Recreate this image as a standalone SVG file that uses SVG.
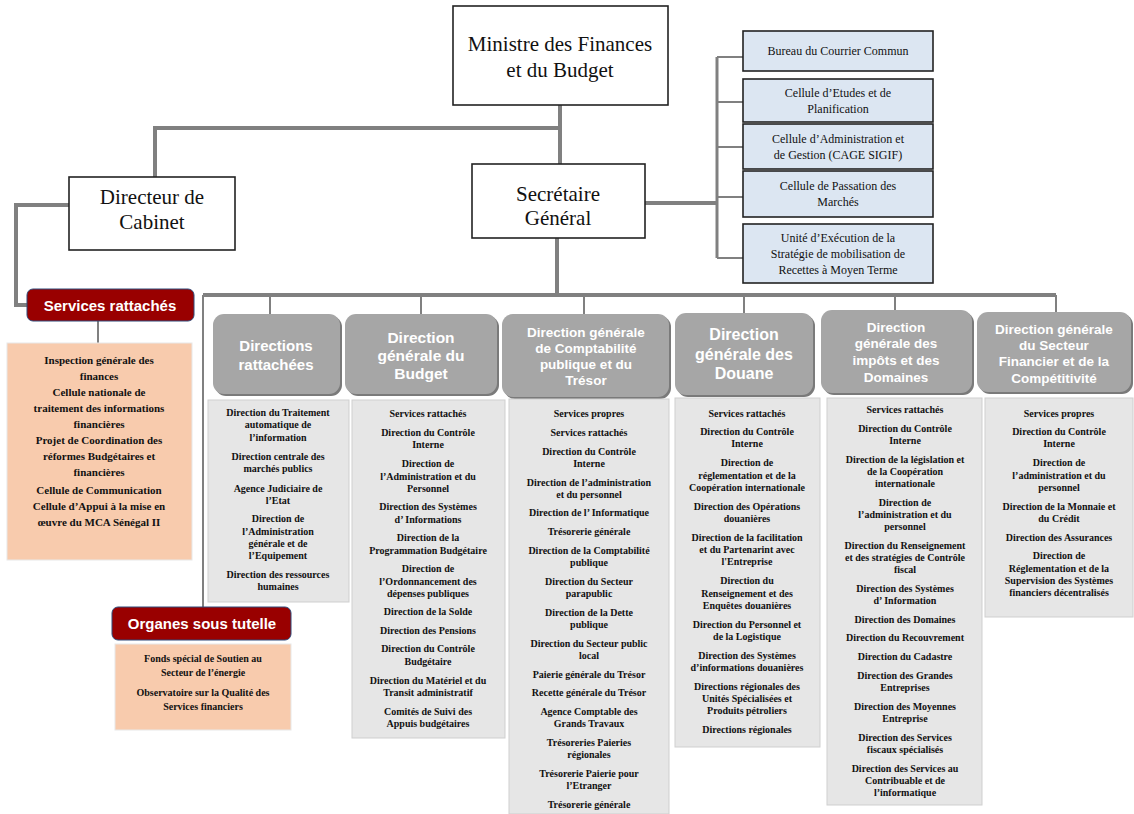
<svg xmlns="http://www.w3.org/2000/svg" width="1134" height="814" viewBox="0 0 1134 814">
<style>
.box{fill:#fff;stroke:#222;stroke-width:1.6}
.big{font-family:"Liberation Serif",serif;font-size:21px;fill:#111;text-anchor:middle}
.blue{fill:#dce6f2;stroke:#222;stroke-width:1.6}
.bt{font-family:"Liberation Serif",serif;font-size:12px;fill:#111;text-anchor:middle}
.red{fill:#990000;stroke:#2e4a7a;stroke-width:1}
.rt{font-family:"Liberation Sans",Arial,sans-serif;font-size:15px;font-weight:bold;fill:#fff;text-anchor:middle}
.org{fill:#f8cbad;stroke:#e8e8e8;stroke-width:1}
.ot{font-family:"Liberation Serif",serif;font-size:11px;font-weight:bold;fill:#111;text-anchor:middle}
.hd{fill:#a6a6a6}
.hs{fill:#7a7a7a}
.ht{font-family:"Liberation Sans",Arial,sans-serif;font-weight:bold;fill:#fff;text-anchor:middle}
.lst{fill:#e6e6e6;stroke:#cfcfcf;stroke-width:1}
.t{font-family:"Liberation Serif",serif;font-size:10px;font-weight:bold;fill:#111;text-anchor:middle}
.c{fill:none;stroke:#808080;stroke-linejoin:miter}
</style>

<g id="connectors">
  <path class="c" stroke-width="4" d="M560,105 V164 M560,128 H155 V177"/>
  <path class="c" stroke-width="4" d="M69,205 H16 V305 H27"/>
  <path class="c" stroke-width="2" d="M98,320 V343"/>
  <path class="c" stroke-width="4" d="M557,238 V295"/>
  <path class="c" stroke-width="4" d="M203,295 H1056"/>
  <path class="c" stroke-width="2" d="M203,295 V607"/>
  <path class="c" stroke-width="2" d="M270,295 V314 M421,295 V314 M584,295 V314 M744,295 V313 M895,295 V310 M1056,295 V312"/>
  <path class="c" stroke-width="4" d="M645,203 H717"/>
  <path class="c" stroke-width="3" d="M717,57 V258"/>
  <path class="c" stroke-width="2" d="M717,57 H743 M717,102 H743 M717,147 H743 M717,197 H743 M717,258 H743"/>
</g>

<g id="ministre">
  <rect class="box" x="453" y="6" width="215" height="99"/>
  <text class="big" x="560" y="51">Ministre des Finances</text>
  <text class="big" x="560" y="77">et du Budget</text>
</g>

<g id="directeur-cabinet">
  <rect class="box" x="69" y="177" width="166" height="73"/>
  <text class="big" x="152" y="204">Directeur de</text>
  <text class="big" x="152" y="229">Cabinet</text>
</g>

<g id="secretaire-general">
  <rect class="box" x="472" y="164" width="173" height="74"/>
  <text class="big" x="558" y="201">Secrétaire</text>
  <text class="big" x="558" y="225">Général</text>
</g>

<g id="bureau-courrier">
  <rect class="blue" x="743" y="31" width="190" height="40"/>
  <text class="bt" x="838" y="55">Bureau du Courrier Commun</text>
</g>
<g id="cellule-etudes">
  <rect class="blue" x="743" y="79" width="190" height="43"/>
  <text class="bt" x="838" y="97">Cellule d’Etudes et de</text>
  <text class="bt" x="838" y="113">Planification</text>
</g>
<g id="cellule-administration">
  <rect class="blue" x="743" y="124" width="190" height="45"/>
  <text class="bt" x="838" y="143">Cellule d’Administration et</text>
  <text class="bt" x="838" y="159">de Gestion (CAGE SIGIF)</text>
</g>
<g id="cellule-passation">
  <rect class="blue" x="743" y="171" width="190" height="46"/>
  <text class="bt" x="838" y="190">Cellule de Passation des</text>
  <text class="bt" x="838" y="206">Marchés</text>
</g>
<g id="unite-execution">
  <rect class="blue" x="743" y="224" width="190" height="59"/>
  <text class="bt" x="838" y="242">Unité d’Exécution de la</text>
  <text class="bt" x="838" y="258">Stratégie de mobilisation de</text>
  <text class="bt" x="838" y="274">Recettes à Moyen Terme</text>
</g>

<g id="services-rattaches">
  <rect class="red" x="27" y="289" width="167" height="32" rx="6"/>
  <text class="rt" x="110" y="311">Services rattachés</text>
  <rect class="org" x="7" y="343" width="185" height="217"/>
  <text class="ot" x="99" y="364">Inspection générale des</text>
  <text class="ot" x="99" y="380">finances</text>
  <text class="ot" x="99" y="396">Cellule nationale de</text>
  <text class="ot" x="99" y="412">traitement des informations</text>
  <text class="ot" x="99" y="428">financières</text>
  <text class="ot" x="99" y="444">Projet de Coordination des</text>
  <text class="ot" x="99" y="460">réformes Budgétaires et</text>
  <text class="ot" x="99" y="476">financières</text>
  <text class="ot" x="99" y="494">Cellule de Communication</text>
  <text class="ot" x="99" y="510">Cellule d’Appui à la mise en</text>
  <text class="ot" x="99" y="526">œuvre du MCA Sénégal II</text>
</g>

<g id="organes-sous-tutelle">
  <rect class="red" x="112" y="607" width="179" height="33" rx="6"/>
  <text class="rt" x="202" y="629">Organes sous tutelle</text>
  <rect class="org" x="115" y="644" width="176" height="86"/>
  <text class="t" x="203" y="662">Fonds spécial de Soutien au</text>
  <text class="t" x="203" y="676">Secteur de l’énergie</text>
  <text class="t" x="203" y="696">Observatoire sur la Qualité des</text>
  <text class="t" x="203" y="710">Services financiers</text>
</g>

<g id="directions-rattachees">
  <rect class="hs" x="215" y="316" width="127" height="80" rx="11"/>
  <rect class="hd" x="213" y="314" width="127" height="80" rx="11"/>
  <text class="ht" font-size="15" x="276" y="351">Directions</text>
  <text class="ht" font-size="15" x="276" y="370">rattachées</text>
  <rect class="lst" x="208" y="400" width="141" height="202"/>
  <text class="t" x="278" y="416">Direction du Traitement</text>
  <text class="t" x="278" y="428">automatique de</text>
  <text class="t" x="278" y="441">l’information</text>
  <text class="t" x="278" y="460">Direction centrale des</text>
  <text class="t" x="278" y="472">marchés publics</text>
  <text class="t" x="278" y="492">Agence Judiciaire de</text>
  <text class="t" x="278" y="504">l’Etat</text>
  <text class="t" x="278" y="522">Direction de</text>
  <text class="t" x="278" y="535">l’Administration</text>
  <text class="t" x="278" y="547">générale et de</text>
  <text class="t" x="278" y="559">l’Equipement</text>
  <text class="t" x="278" y="578">Direction des ressources</text>
  <text class="t" x="278" y="590">humaines</text>
</g>

<g id="dg-budget">
  <rect class="hs" x="347" y="316" width="152" height="80" rx="11"/>
  <rect class="hd" x="345" y="314" width="152" height="80" rx="11"/>
  <text class="ht" font-size="15.5" x="421" y="343">Direction</text>
  <text class="ht" font-size="15.5" x="421" y="361">générale du</text>
  <text class="ht" font-size="15.5" x="421" y="379">Budget</text>
  <rect class="lst" x="352" y="400" width="153" height="338"/>
  <text class="t" x="428" y="417">Services rattachés</text>
  <text class="t" x="428" y="436">Direction du Contrôle</text>
  <text class="t" x="428" y="448">Interne</text>
  <text class="t" x="428" y="467">Direction de</text>
  <text class="t" x="428" y="480">l’Administration et du</text>
  <text class="t" x="428" y="492">Personnel</text>
  <text class="t" x="428" y="510">Direction des Systèmes</text>
  <text class="t" x="428" y="523">d’ Informations</text>
  <text class="t" x="428" y="541">Direction de la</text>
  <text class="t" x="428" y="554">Programmation Budgétaire</text>
  <text class="t" x="428" y="572">Direction de</text>
  <text class="t" x="428" y="585">l’Ordonnancement des</text>
  <text class="t" x="428" y="597">dépenses publiques</text>
  <text class="t" x="428" y="615">Direction de la Solde</text>
  <text class="t" x="428" y="634">Direction des Pensions</text>
  <text class="t" x="428" y="652">Direction du Contrôle</text>
  <text class="t" x="428" y="665">Budgétaire</text>
  <text class="t" x="428" y="684">Direction du Matériel et du</text>
  <text class="t" x="428" y="696">Transit administratif</text>
  <text class="t" x="428" y="715">Comités de Suivi des</text>
  <text class="t" x="428" y="727">Appuis budgétaires</text>
</g>

<g id="dg-comptabilite-tresor">
  <rect class="hs" x="504" y="316" width="167" height="83" rx="11"/>
  <rect class="hd" x="502" y="314" width="167" height="83" rx="11"/>
  <text class="ht" font-size="13.5" x="586" y="337">Direction générale</text>
  <text class="ht" font-size="13.5" x="586" y="353">de Comptabilité</text>
  <text class="ht" font-size="13.5" x="586" y="369">publique et du</text>
  <text class="ht" font-size="13.5" x="586" y="385">Trésor</text>
  <rect class="lst" x="509" y="399" width="160" height="415"/>
  <text class="t" x="589" y="417">Services propres</text>
  <text class="t" x="589" y="436">Services rattachés</text>
  <text class="t" x="589" y="455">Direction du Contrôle</text>
  <text class="t" x="589" y="467">Interne</text>
  <text class="t" x="589" y="486">Direction de l’administration</text>
  <text class="t" x="589" y="498">et du personnel</text>
  <text class="t" x="589" y="516">Direction de l’ Informatique</text>
  <text class="t" x="589" y="535">Trésorerie générale</text>
  <text class="t" x="589" y="554">Direction de la Comptabilité</text>
  <text class="t" x="589" y="566">publique</text>
  <text class="t" x="589" y="585">Direction du Secteur</text>
  <text class="t" x="589" y="597">parapublic</text>
  <text class="t" x="589" y="616">Direction de la Dette</text>
  <text class="t" x="589" y="628">publique</text>
  <text class="t" x="589" y="647">Direction du Secteur public</text>
  <text class="t" x="589" y="659">local</text>
  <text class="t" x="589" y="678">Paierie générale du Trésor</text>
  <text class="t" x="589" y="696">Recette générale du Trésor</text>
  <text class="t" x="589" y="715">Agence Comptable des</text>
  <text class="t" x="589" y="727">Grands Travaux</text>
  <text class="t" x="589" y="746">Trésoreries Paieries</text>
  <text class="t" x="589" y="758">régionales</text>
  <text class="t" x="589" y="777">Trésorerie Paierie pour</text>
  <text class="t" x="589" y="789">l’Etranger</text>
  <text class="t" x="589" y="808">Trésorerie générale</text>
</g>

<g id="dg-douane">
  <rect class="hs" x="677" y="315" width="138" height="82" rx="11"/>
  <rect class="hd" x="675" y="313" width="138" height="82" rx="11"/>
  <text class="ht" font-size="16" x="744" y="340">Direction</text>
  <text class="ht" font-size="16" x="744" y="360">générale des</text>
  <text class="ht" font-size="16" x="744" y="379">Douane</text>
  <rect class="lst" x="675" y="398" width="145" height="349"/>
  <text class="t" x="747" y="417">Services rattachés</text>
  <text class="t" x="747" y="435">Direction du Contrôle</text>
  <text class="t" x="747" y="447">Interne</text>
  <text class="t" x="747" y="466">Direction de</text>
  <text class="t" x="747" y="479">réglementation et de la</text>
  <text class="t" x="747" y="491">Coopération internationale</text>
  <text class="t" x="747" y="510">Direction des Opérations</text>
  <text class="t" x="747" y="522">douanières</text>
  <text class="t" x="747" y="541">Direction de la facilitation</text>
  <text class="t" x="747" y="553">et du Partenarint avec</text>
  <text class="t" x="747" y="565">l'Entreprise</text>
  <text class="t" x="747" y="584">Direction du</text>
  <text class="t" x="747" y="597">Renseignement et des</text>
  <text class="t" x="747" y="609">Enquêtes douanières</text>
  <text class="t" x="747" y="628">Direction du Personnel et</text>
  <text class="t" x="747" y="640">de la Logistique</text>
  <text class="t" x="747" y="659">Direction des Systèmes</text>
  <text class="t" x="747" y="671">d’informations douanières</text>
  <text class="t" x="747" y="690">Directions régionales des</text>
  <text class="t" x="747" y="702">Unités Spécialisées et</text>
  <text class="t" x="747" y="714">Produits pétroliers</text>
  <text class="t" x="747" y="733">Directions régionales</text>
</g>

<g id="dg-impots-domaines">
  <rect class="hs" x="823" y="312" width="151" height="83" rx="11"/>
  <rect class="hd" x="821" y="310" width="151" height="83" rx="11"/>
  <text class="ht" font-size="13.5" x="896" y="332">Direction</text>
  <text class="ht" font-size="13.5" x="896" y="348">générale des</text>
  <text class="ht" font-size="13.5" x="896" y="365">impôts et des</text>
  <text class="ht" font-size="13.5" x="896" y="382">Domaines</text>
  <rect class="lst" x="827" y="398" width="155" height="407"/>
  <text class="t" x="905" y="413">Services rattachés</text>
  <text class="t" x="905" y="432">Direction du Contrôle</text>
  <text class="t" x="905" y="444">Interne</text>
  <text class="t" x="905" y="463">Direction de la législation et</text>
  <text class="t" x="905" y="475">de la Coopération</text>
  <text class="t" x="905" y="487">internationale</text>
  <text class="t" x="905" y="506">Direction de</text>
  <text class="t" x="905" y="518">l’administration et du</text>
  <text class="t" x="905" y="530">personnel</text>
  <text class="t" x="905" y="549">Direction du Renseignement</text>
  <text class="t" x="905" y="561">et des stratégies de Contrôle</text>
  <text class="t" x="905" y="573">fiscal</text>
  <text class="t" x="905" y="592">Direction des Systèmes</text>
  <text class="t" x="905" y="604">d’ Information</text>
  <text class="t" x="905" y="623">Direction des Domaines</text>
  <text class="t" x="905" y="641">Direction du Recouvrement</text>
  <text class="t" x="905" y="660">Direction du Cadastre</text>
  <text class="t" x="905" y="679">Direction des Grandes</text>
  <text class="t" x="905" y="691">Entreprises</text>
  <text class="t" x="905" y="710">Direction des Moyennes</text>
  <text class="t" x="905" y="722">Entreprise</text>
  <text class="t" x="905" y="741">Direction des Services</text>
  <text class="t" x="905" y="753">fiscaux spécialisés</text>
  <text class="t" x="905" y="772">Direction des Services au</text>
  <text class="t" x="905" y="784">Contribuable et de</text>
  <text class="t" x="905" y="796">l’informatique</text>
</g>

<g id="dg-secteur-financier">
  <rect class="hs" x="979" y="314" width="154" height="80" rx="11"/>
  <rect class="hd" x="977" y="312" width="154" height="80" rx="11"/>
  <text class="ht" font-size="13.5" x="1054" y="334">Direction générale</text>
  <text class="ht" font-size="13.5" x="1054" y="350">du Secteur</text>
  <text class="ht" font-size="13.5" x="1054" y="366">Financier et de la</text>
  <text class="ht" font-size="13.5" x="1054" y="383">Compétitivité</text>
  <rect class="lst" x="985" y="398" width="148" height="219"/>
  <text class="t" x="1059" y="417">Services propres</text>
  <text class="t" x="1059" y="435">Direction du Contrôle</text>
  <text class="t" x="1059" y="447">Interne</text>
  <text class="t" x="1059" y="466">Direction de</text>
  <text class="t" x="1059" y="479">l’administration et du</text>
  <text class="t" x="1059" y="491">personnel</text>
  <text class="t" x="1059" y="510">Direction de la Monnaie et</text>
  <text class="t" x="1059" y="522">du Crédit</text>
  <text class="t" x="1059" y="541">Direction des Assurances</text>
  <text class="t" x="1059" y="559">Direction de</text>
  <text class="t" x="1059" y="572">Réglementation et de la</text>
  <text class="t" x="1059" y="584">Supervision des Systèmes</text>
  <text class="t" x="1059" y="596">financiers décentralisés</text>
</g>
</svg>
